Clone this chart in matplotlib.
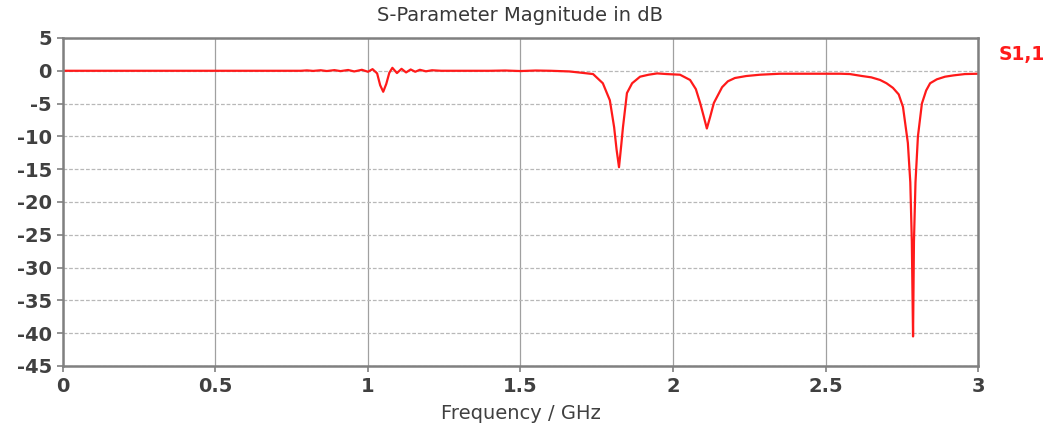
import numpy as np
import matplotlib.pyplot as plt

plt.rcParams['axes.unicode_minus'] = False

# %% DATA
freq = [0.0, 0.78, 0.80, 0.82, 0.845, 0.865, 0.89, 0.91, 0.935, 0.955, 0.98, 1.0,
        1.015, 1.03, 1.04, 1.05, 1.06, 1.07, 1.08, 1.095, 1.11, 1.125, 1.14, 1.155,
        1.17, 1.19, 1.21, 1.24, 1.40, 1.45, 1.50, 1.55, 1.60, 1.66, 1.70, 1.738,
        1.77, 1.793, 1.807, 1.815, 1.823, 1.830, 1.836, 1.849, 1.866, 1.892, 1.92,
        1.948, 1.98, 2.023, 2.056, 2.075, 2.089, 2.101, 2.111, 2.122, 2.134, 2.161,
        2.18, 2.203, 2.24, 2.285, 2.35, 2.45, 2.55, 2.58, 2.62, 2.65, 2.679, 2.70,
        2.721, 2.74, 2.754, 2.77, 2.778, 2.783, 2.787, 2.790, 2.795, 2.803, 2.816,
        2.83, 2.843, 2.865, 2.892, 2.92, 2.957, 3.0]
s11_db = [0, 0, 0.06, -0.02, 0.08, -0.04, 0.1, -0.05, 0.12, -0.1, 0.15, -0.15,
          0.25, -0.4, -2.2, -3.2, -2.0, -0.3, 0.45, -0.35, 0.3, -0.25, 0.2, -0.15,
          0.15, -0.08, 0.08, 0, 0, 0.04, -0.04, 0.04, 0, -0.1, -0.3, -0.5,
          -1.9, -4.5, -8.6, -12.0, -14.7, -11.5, -8.6, -3.4, -1.9, -0.9, -0.6,
          -0.4, -0.5, -0.6, -1.4, -2.8, -4.9, -7.0, -8.8, -7.0, -4.9, -2.5,
          -1.6, -1.1, -0.8, -0.6, -0.45, -0.45, -0.45, -0.5, -0.8, -1.0, -1.4, -1.9,
          -2.6, -3.6, -5.5, -11, -17, -26, -40.5, -26, -17, -10, -5,
          -3, -1.9, -1.3, -0.9, -0.7, -0.5, -0.45]

xticks = [0, 0.5, 1, 1.5, 2, 2.5, 3]
xticklabels = ['0', '0.5', '1', '1.5', '2', '2.5', '3']
yticks = list(range(-45, 10, 5))

# %% PLOT
fig = plt.figure(figsize=(10.58, 4.23), dpi=100)
ax = fig.add_axes([0.0595, 0.1348, 0.8649, 0.7754])

ax.plot(freq, s11_db, color='#ff1a1a', lw=1.6)

ax.set_xlim(0, 3)
ax.set_ylim(-45, 5)
ax.set_xticks(xticks)
ax.set_xticklabels(xticklabels)
ax.set_yticks(yticks)

ax.xaxis.grid(True, color='#a0a0a0', lw=0.9, ls='-')
ax.yaxis.grid(True, color='#b8b8b8', lw=0.9, ls=(0, (3, 1.5)))
ax.set_axisbelow(True)

for s in ax.spines.values():
    s.set_color('#808080')
    s.set_linewidth(1.8)

ax.tick_params(axis='both', direction='out', length=4, width=1.2, color='#808080',
               labelsize=14, labelcolor='#404040', pad=4)
for lbl in ax.get_xticklabels() + ax.get_yticklabels():
    lbl.set_fontweight('bold')

ax.set_title('S-Parameter Magnitude in dB', fontsize=14, color='#383838', pad=12)
ax.set_xlabel('Frequency / GHz', fontsize=14, color='#404040', labelpad=6)
fig.text(0.944, 0.87, 'S1,1', color='#ff1a1a', fontsize=13.5, fontweight='bold',
         ha='left', va='center')

fig.savefig('out.png', dpi=100)
